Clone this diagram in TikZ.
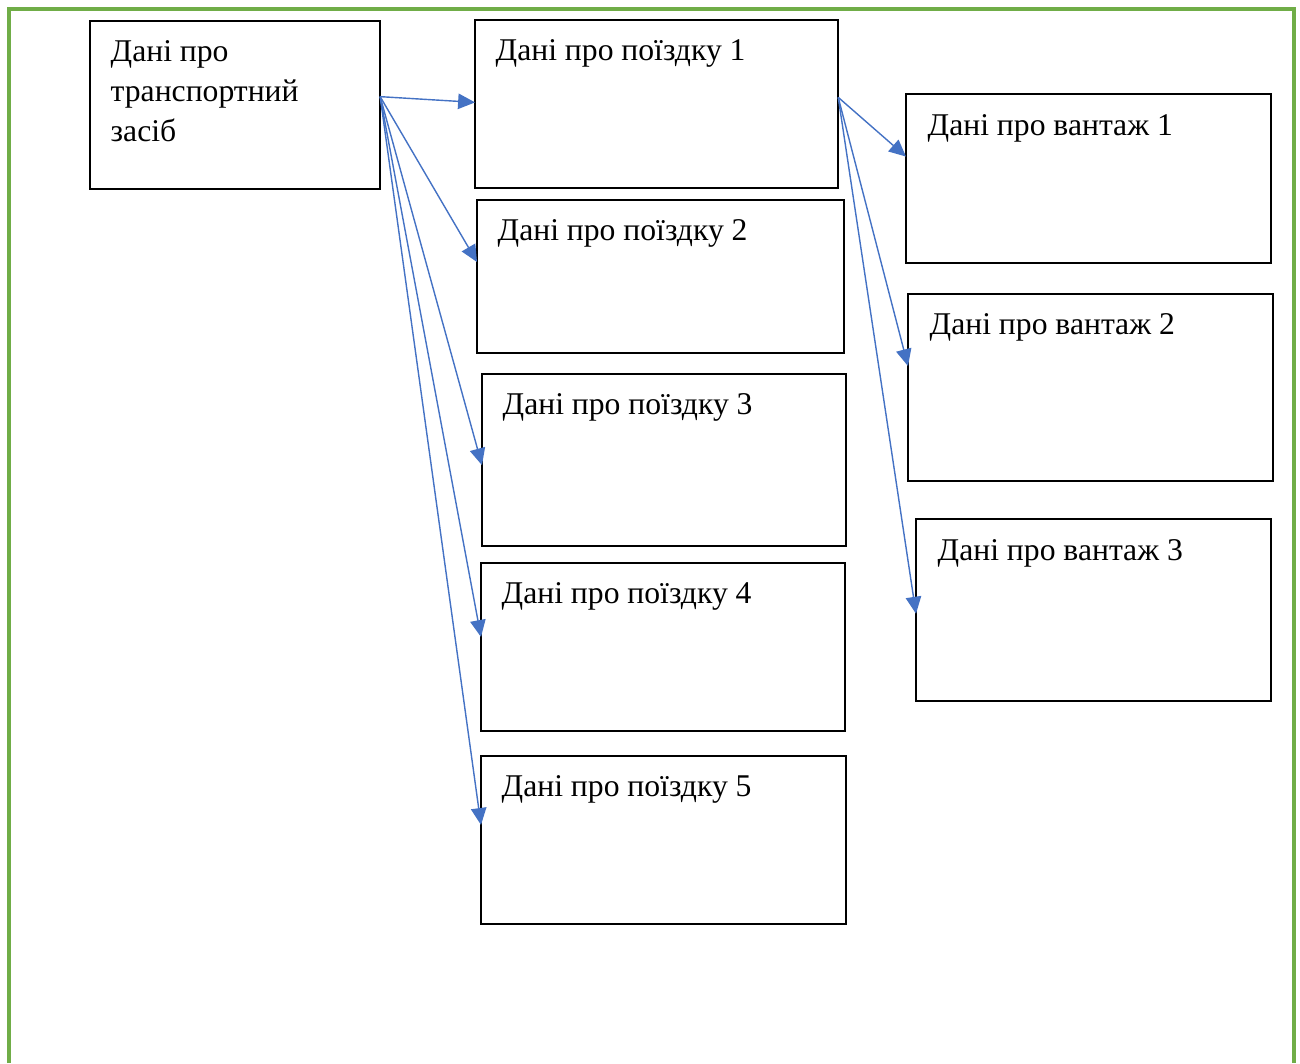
\documentclass[tikz,border=0pt]{standalone}
\usepackage{fontspec}
\setmainfont{Liberation Serif}
\usetikzlibrary{calc,arrows.meta}
\definecolor{frame}{RGB}{112,173,71}
\definecolor{link}{RGB}{68,114,196}
\tikzset{
  box/.style={draw, line width=0.6pt, anchor=north west, inner sep=0pt, outer sep=0pt},
  txt/.style={anchor=base west, inner sep=0pt, align=left, font=\fontsize{9}{11.3}\selectfont},
  arr/.style={draw=link, line width=0.4pt, -{Triangle[length=4.8pt,width=4.4pt]}}
}
\begin{document}
\begin{tikzpicture}[x=0.01cm,y=-0.01cm]
\useasboundingbox (0,0) rectangle (1300,1063);
\draw[frame, line width=1pt] (9,1063)--(9,9)--(1294,9)--(1294,1063);
% vehicle
\node[box, minimum width=2.90cm, minimum height=1.68cm] (veh) at (90,21) {};
\node[txt] (vehtxt) at (110,141) {Дані про\\транспортний\\засіб};
% trips
\node[box, minimum width=3.63cm, minimum height=1.68cm] (trip1) at (475,20) {};
\node[box, minimum width=3.67cm, minimum height=1.53cm] (trip2) at (477,200) {};
\node[box, minimum width=3.64cm, minimum height=1.72cm] (trip3) at (482,374) {};
\node[box, minimum width=3.64cm, minimum height=1.68cm] (trip4) at (481,563) {};
\node[box, minimum width=3.65cm, minimum height=1.68cm] (trip5) at (481,756) {};
\node[txt] at (495,60) {Дані про поїздку 1};
\node[txt] at (497,240) {Дані про поїздку 2};
\node[txt] at (502,414) {Дані про поїздку 3};
\node[txt] at (501,603) {Дані про поїздку 4};
\node[txt] at (501,796) {Дані про поїздку 5};
% cargo
\node[box, minimum width=3.65cm, minimum height=1.69cm] (cargo1) at (906,94) {};
\node[box, minimum width=3.65cm, minimum height=1.87cm] (cargo2) at (908,294) {};
\node[box, minimum width=3.55cm, minimum height=1.82cm] (cargo3) at (916,519) {};
\node[txt] at (927,135) {Дані про вантаж 1};
\node[txt] at (929,334) {Дані про вантаж 2};
\node[txt] at (937,560) {Дані про вантаж 3};
% links
\coordinate (vo) at ($(veh.north east)!0.45!(veh.south east)$);
\draw[arr] (vo) -- ($(trip1.north west)!0.49!(trip1.south west)$);
\draw[arr] (vo) -- ($(trip2.north west)!0.405!(trip2.south west)$);
\draw[arr] (vo) -- ($(trip3.north west)!0.53!(trip3.south west)$);
\draw[arr] (vo) -- ($(trip4.north west)!0.44!(trip4.south west)$);
\draw[arr] (vo) -- ($(trip5.north west)!0.41!(trip5.south west)$);
\coordinate (to) at ($(trip1.north east)!0.46!(trip1.south east)$);
\draw[arr] (to) -- ($(cargo1.north west)!0.37!(cargo1.south west)$);
\draw[arr] (to) -- ($(cargo2.north west)!0.385!(cargo2.south west)$);
\draw[arr] (to) -- ($(cargo3.north west)!0.52!(cargo3.south west)$);
\end{tikzpicture}
\end{document}
